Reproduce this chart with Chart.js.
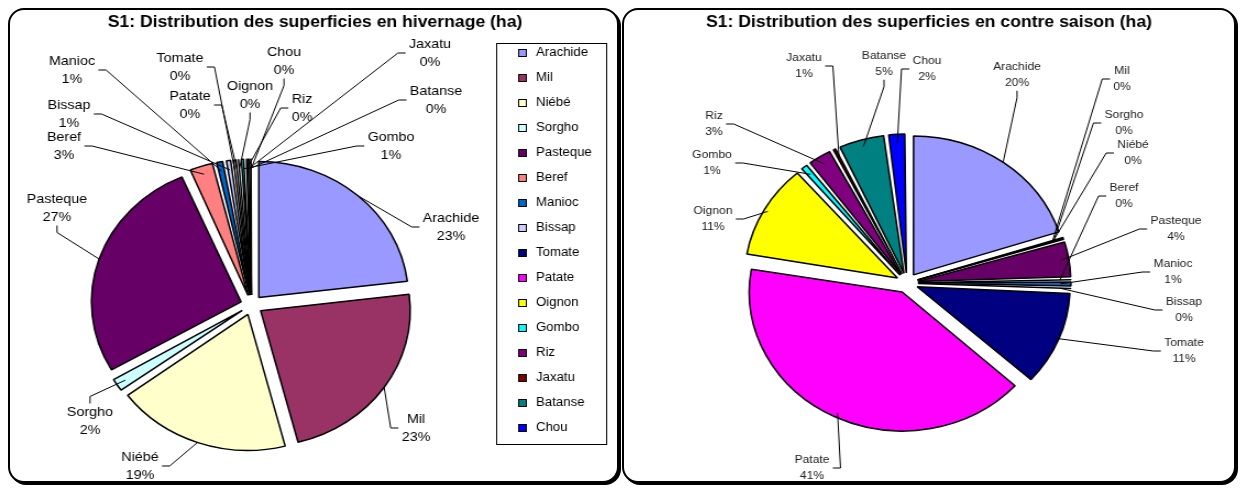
<!DOCTYPE html>
<html>
<head>
<meta charset="utf-8">
<script src="https://cdn.jsdelivr.net/npm/chart.js@4.4.1/dist/chart.umd.min.js"></script>
<style>
body { margin:0; background:#fff; width:1240px; height:489px; overflow:hidden; position:relative; }
.panel { position:absolute; border:2px solid #000; border-radius:16px; background:#fff; box-sizing:border-box; box-shadow:2px 2px 0 #000; }
canvas { position:absolute; top:0; transform-origin:0 0; transform:scaleX(1.1); }
</style>
</head>
<body>
<div class="panel" style="left:8px;top:8px;width:611px;height:475px"></div>
<div class="panel" style="left:622px;top:8px;width:614px;height:475px"></div>
<canvas id="hiv" width="564" height="489" style="left:0"></canvas>
<canvas id="cs" width="564" height="489" style="left:620px"></canvas>
<script>
// the original picture is stretched sideways, so the canvases are too
const STRETCH = 1.1;
const OFFSET = 40; // chart.js v4 moves each slice by offset/4
const FONT = '"Liberation Sans", Arial, sans-serif';

const categories = ['Arachide', 'Mil', 'Niébé', 'Sorgho', 'Pasteque', 'Beref', 'Manioc', 'Bissap',
    'Tomate', 'Patate', 'Oignon', 'Gombo', 'Riz', 'Jaxatu', 'Batanse', 'Chou'];
const hivernage = [23.2, 23, 19, 1.8, 27, 2.8, 1.0, 0.8, 0.2, 0.3, 0.2, 0.6, 0.2, 0.1, 0.2, 0.1];
const contreSaison = [20, 0.1, 0.1, 0.1, 4.3, 0.1, 0.8, 0.2, 11, 41, 11, 1, 2.7, 0.6, 5, 2];
const colors = ['#9999FF', '#993366', '#FFFFCC', '#CCFFFF', '#660066', '#FF8080', '#0066CC', '#CCCCFF',
    '#000080', '#FF00FF', '#FFFF00', '#00FFFF', '#800080', '#800000', '#008080', '#0000FF'];

// where the data labels sit (page px, centre of the two lines) and which side the leader leaves from
const hivLabelPos = [
    [451, 227, 'l'], [416, 428, 'l'], [140, 466, 'r'], [90, 421, 't'], [57, 208, 'b'], [64, 146, 'r'],
    [72, 70, 'r'], [69, 114, 'r'], [180, 67, 'r'], [190, 105, 'r'], [250, 95, 'b'], [391, 146, 'l'],
    [302, 108, 'l'], [430, 53, 'l'], [436, 100, 'l'], [284, 61, 'b']
];
const csLabelPos = [
    [1017, 75, 'b'], [1122, 79, 'l'], [1133, 153, 'l'], [1124, 123, 'l'], [1176, 229, 'l'], [1124, 196, 'l'],
    [1173, 272, 'l'], [1184, 310, 'l'], [1184, 351, 'l'], [812, 468, 'r'], [713, 219, 'r'], [712, 163, 'r'],
    [714, 124, 'r'], [804, 66, 'r'], [884, 64, 'b'], [927, 69, 'l']
];

const pieLabels = {
    id: 'pieLabels',
    afterDatasetUpdate(chart, args) {
        // v4 makes thin slices bigger when offset is set, undo that
        args.meta.data.forEach(arc => {
            const fix = 1 - Math.sin(Math.min(Math.PI, arc.circumference));
            arc.outerRadius -= (OFFSET / 4) * fix;
        });
    },
    afterDraw(chart, args, o) {
        const ctx = chart.ctx;
        const arcs = chart.getDatasetMeta(0).data;
        const vals = chart.data.datasets[0].data;
        const total = vals.reduce((a, b) => a + b, 0);
        const toX = x => (x - o.left) / STRETCH;

        ctx.save();
        ctx.fillStyle = '#000';
        ctx.textAlign = 'center';
        ctx.textBaseline = 'middle';
        ctx.font = 'bold 16px ' + FONT;
        ctx.fillText(o.title, toX(o.titleX), 23);

        ctx.font = o.fontSize + 'px ' + FONT;
        ctx.strokeStyle = '#000';
        ctx.lineWidth = 1;
        o.labelPos.forEach((p, i) => {
            const arc = arcs[i];
            const name = chart.data.labels[i];
            const pct = Math.round(vals[i] / total * 100) + '%';
            const lx = toX(p[0]), ly = p[1], lh = o.lineHeight;
            ctx.fillStyle = o.textColor;
            ctx.fillText(name, lx, ly - lh / 2);
            ctx.fillText(pct, lx, ly + lh / 2);
            const w = Math.max(ctx.measureText(name).width, ctx.measureText(pct).width);
            let sx, sy, ex, ey;
            if (p[2] == 'l') { sx = lx - w / 2 - 3; sy = ly; ex = sx - 7; ey = sy; }
            else if (p[2] == 'r') { sx = lx + w / 2 + 3; sy = ly; ex = sx + 7; ey = sy; }
            else if (p[2] == 't') { sx = lx; sy = ly - lh / 2 - o.fontSize / 2 - 2; ex = sx; ey = sy - 7; }
            else { sx = lx; sy = ly + lh / 2 + o.fontSize / 2 + 2; ex = sx; ey = sy + 7; }
            const mid = (arc.startAngle + arc.endAngle) / 2;
            const r = arc.outerRadius + OFFSET / 4;
            ctx.beginPath();
            ctx.moveTo(sx, sy);
            ctx.lineTo(ex, ey);
            ctx.lineTo(arc.x + Math.cos(mid) * r, arc.y + Math.sin(mid) * r);
            ctx.stroke();
        });

        if (o.legend) {
            const lg = o.legend;
            ctx.strokeRect(Math.round(toX(lg.x0)) + 0.5, lg.y0 + 0.5, Math.round(toX(lg.x1) - toX(lg.x0)), lg.y1 - lg.y0);
            ctx.font = '12px ' + FONT;
            ctx.textAlign = 'left';
            chart.data.labels.forEach((name, i) => {
                const y = lg.firstY + i * lg.step;
                const mx = Math.round(toX(lg.markX));
                ctx.fillStyle = colors[i];
                ctx.fillRect(mx - 3.5, y - 3.5, 7, 7);
                ctx.strokeRect(mx - 3.5, y - 3.5, 7, 7);
                ctx.fillStyle = '#000';
                ctx.fillText(name, toX(lg.textX), y);
            });
        }
        ctx.restore();
    }
};

function makeChart(id, values, o) {
    const W = 564, H = 489;
    const cx = (o.centerX - o.left) / STRETCH, cy = o.centerY;
    return new Chart(document.getElementById(id), {
        type: 'pie',
        data: {
            labels: categories,
            datasets: [{
                data: values,
                backgroundColor: colors,
                borderColor: '#000',
                borderWidth: 1.5,
                offset: OFFSET,
                radius: o.radius
            }]
        },
        options: {
            responsive: false,
            animation: false,
            devicePixelRatio: 1,
            events: [],
            layout: { padding: { left: cx - 50, right: W - cx - 50, top: cy - 50, bottom: H - cy - 50 } },
            plugins: {
                legend: { display: false },
                tooltip: { enabled: false },
                pieLabels: o
            }
        },
        plugins: [pieLabels]
    });
}

makeChart('hiv', hivernage, {
    left: 0, centerX: 251.5, centerY: 305, radius: 136,
    title: 'S1: Distribution des superficies en hivernage (ha)', titleX: 315,
    labelPos: hivLabelPos, fontSize: 13, lineHeight: 18, textColor: '#000',
    legend: { x0: 496, x1: 606, y0: 43, y1: 444, firstY: 53, step: 25, markX: 523, textX: 536 }
});

makeChart('cs', contreSaison, {
    left: 620, centerX: 907, centerY: 283, radius: 139,
    title: 'S1: Distribution des superficies en contre saison (ha)', titleX: 929,
    labelPos: csLabelPos, fontSize: 11, lineHeight: 16.5, textColor: '#222',
    legend: null
});
</script>
</body>
</html>
